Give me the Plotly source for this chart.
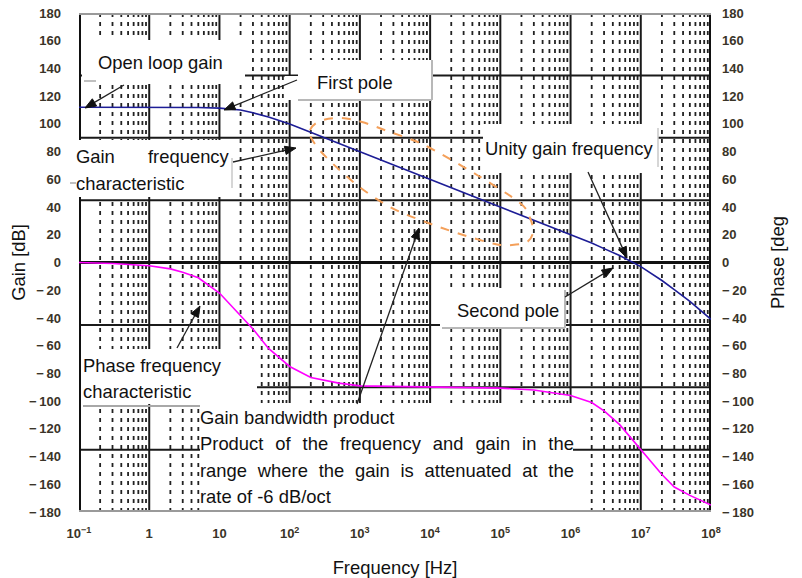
import math
import plotly.graph_objects as go

# ---------------- data ----------------
freq_gain = [0.1, 1, 5, 10, 20, 30, 50, 100, 200, 500, 1e3, 1e4, 1e5, 1e6,
             2e6, 3e6, 5e6, 1e7, 2e7, 3e7, 5e7, 1e8]
gain_db = [112, 112, 111.8, 111.4, 110, 108, 105, 100, 94, 86, 80, 60, 40, 20,
           14, 10, 5, -3, -13, -19.5, -28, -41]

freq_phase = [0.1, 0.3, 1, 2, 3, 5, 10, 20, 30, 50, 100, 200, 500, 1e3, 1e4,
              1e5, 3e5, 1e6, 2e6, 3e6, 5e6, 1e7, 2e7, 3e7, 5e7, 1e8]
phase_deg = [0, -0.7, -2.3, -4.6, -7, -11, -22, -38, -48, -62, -75, -83, -87,
             -89, -90, -90.6, -92, -96, -101, -107, -117, -135, -153, -162,
             -168, -175]

x_tickvals = [0.1, 1, 10, 100, 1e3, 1e4, 1e5, 1e6, 1e7, 1e8]
x_ticktext = ["10<sup>−1</sup>", "1", "10", "10<sup>2</sup>", "10<sup>3</sup>",
              "10<sup>4</sup>", "10<sup>5</sup>", "10<sup>6</sup>",
              "10<sup>7</sup>", "10<sup>8</sup>"]
y_tickvals = list(range(-180, 181, 20))
y_ticktext = [str(v).replace("-", "−\u2009") for v in y_tickvals]
phase_grid = [-135, -90, -45, 45, 90, 135]

# ---------------- geometry ----------------
X0, X1, Y0, Y1 = 79, 711, 13, 512      # plot area in page pixels
OFF = 8                                # default body margin of the page
W, H = 802 - OFF, 578 - OFF
L, T = X0 - OFF, Y0 - OFF
R, B = W - (X1 - OFF), H - (Y1 - OFF)
PW, PH = X1 - X0, Y1 - Y0
XR, YR = [-1, 8], [-180, 180]


def dx(p):   # page pixel -> x data value (log axis)
    return 10 ** (XR[0] + (XR[1] - XR[0]) * (p - X0) / PW)


def dy(p):   # page pixel -> y data value
    return YR[1] - (YR[1] - YR[0]) * (p - Y0) / PH


def ppx(p):
    return (p - X0) / PW


def ppy(p):
    return (Y1 - p) / PH


FONT = "Arial, Liberation Sans, sans-serif"
ANN_SIZE = 18.4
ANN_FONT = dict(family=FONT, size=ANN_SIZE, color="#111111")
TICK_FONT = dict(family=FONT, size=13, color="#3a3428", weight="bold")
TITLE_FONT = dict(family=FONT, size=18.4, color="#111")

fig = go.Figure()
fig.add_trace(go.Scatter(x=freq_gain, y=gain_db, mode="lines",
                         line=dict(color="#1d1d96", width=1.6),
                         yaxis="y", hoverinfo="skip"))
fig.add_trace(go.Scatter(x=freq_phase, y=phase_deg, mode="lines",
                         line=dict(color="#ff00ff", width=1.6),
                         yaxis="y2", hoverinfo="skip"))

fig.update_layout(
    width=W, height=H,
    margin=dict(l=L, r=R, t=T, b=B, autoexpand=False),
    paper_bgcolor="white", plot_bgcolor="white", showlegend=False,
    xaxis=dict(type="log", range=XR, tickmode="array",
               tickvals=x_tickvals, ticktext=x_ticktext,
               showgrid=False, showline=False, zeroline=False, ticks="",
               tickfont=TICK_FONT, ticklabelstandoff=12,
               ticklabeloverflow="allow",
               title=dict(text="Frequency [Hz]", font=TITLE_FONT,
                          standoff=23)),
    yaxis=dict(range=YR, tickmode="array", tickvals=y_tickvals,
               ticktext=y_ticktext, showgrid=False, zeroline=False,
               showline=False, ticks="", tickfont=TICK_FONT,
               ticklabelstandoff=17, ticklabeloverflow="allow",
               title=dict(text="Gain [dB]", font=TITLE_FONT, standoff=4)),
    yaxis2=dict(range=YR, overlaying="y", side="right",
                tickmode="array", tickvals=y_tickvals, ticktext=y_ticktext,
                showgrid=False, zeroline=False, showline=False, ticks="",
                tickfont=TICK_FONT, ticklabelstandoff=10,
                ticklabeloverflow="allow",
                title=dict(text="Phase [deg", font=TITLE_FONT, standoff=18)),
)

shapes = []
GRID = "#1a1a1a"


def dline(x0, y0, x1, y1, color, width=2, dash="solid", layer="below"):
    shapes.append(dict(type="line", xref="x", yref="y", x0=x0, y0=y0,
                       x1=x1, y1=y1, layer=layer,
                       line=dict(color=color, width=width, dash=dash)))


def pline(x0, y0, x1, y1, color, width=2, layer="below"):
    dline(dx(x0), dy(y0), dx(x1), dy(y1), color, width, "solid", layer)


def box(x0, y0, x1, y1):
    shapes.append(dict(type="rect", xref="x", yref="y",
                       x0=dx(x0), y0=dy(y0), x1=dx(x1), y1=dy(y1),
                       fillcolor="white", line=dict(width=0), layer="below"))


# grid: dashed minor decades, solid decades, solid phase lines, thick zero
for k in range(XR[0], XR[1]):
    for m in range(2, 10):
        dline(m * 10 ** k, YR[0], m * 10 ** k, YR[1], "#222", 1.8, "4px,5px")
for k in range(XR[0], XR[1] + 1):
    dline(10 ** k, YR[0], 10 ** k, YR[1], GRID, 2)
for v in phase_grid:
    dline(10 ** XR[0], v, 10 ** XR[1], v, GRID, 2)
dline(10 ** XR[0], 0, 10 ** XR[1], 0, "#111", 3)
# frame (half clipped at the plot edge)
dline(10 ** XR[0], YR[0], 10 ** XR[0], YR[1], "#111", 4)
dline(10 ** XR[1], YR[0], 10 ** XR[1], YR[1], "#111", 4)
dline(10 ** XR[0], YR[1], 10 ** XR[1], YR[1], "#9a9a9a", 4)
dline(10 ** XR[0], YR[0], 10 ** XR[1], YR[0], "#9a9a9a", 4)

# white callout boxes
box(82, 40, 245, 84)        # Open loop gain
box(298, 60, 432, 100)      # First pole
box(285, 76, 298, 100)
box(70, 140, 232, 197)      # Gain frequency characteristic
box(483, 124, 658, 173)     # Unity gain frequency
box(440, 288, 566, 328)     # Second pole
box(81, 349, 257, 404)      # Phase frequency characteristic
box(200, 403, 573, 510)     # Gain bandwidth product

# grey box edges
pline(298, 100, 432, 100, "#b8b8b8")
pline(432, 60, 432, 100, "#b8b8b8")
pline(232, 158, 232, 188, "#c8c8c8", 1.5)
pline(658, 128, 658, 167, "#c8c8c8", 1.5)
pline(442, 328, 565, 328, "#b8b8b8")
pline(565, 290, 565, 328, "#b8b8b8")
pline(83, 406, 200, 406, "#a8a8a8")
pline(84, 81, 96, 81, "#c0c0c0")
shapes.append(dict(type="line", xref="paper", yref="paper", x0=ppx(70),
                   x1=ppx(76), y0=ppy(183), y1=ppy(183), layer="below",
                   line=dict(color="#c0c0c0", width=2)))

# dashed orange loop around the -20 dB/dec region
loop = [(310, 130), (320, 121), (340, 118), (362, 122), (390, 132),
        (410, 139), (430, 148), (477, 175), (520, 203), (530, 218),
        (533, 232), (527, 242), (512, 245), (495, 244), (457, 233),
        (423, 221), (390, 207), (357, 185), (327, 158), (313, 141)]
n = len(loop)
seg = []
for i in range(n):
    p0, p1, p2, p3 = loop[i - 1], loop[i], loop[(i + 1) % n], loop[(i + 2) % n]
    c1 = (p1[0] + (p2[0] - p0[0]) / 6, p1[1] + (p2[1] - p0[1]) / 6)
    c2 = (p2[0] - (p3[0] - p1[0]) / 6, p2[1] - (p3[1] - p1[1]) / 6)
    seg.append("C %g,%g %g,%g %g,%g" % (dx(c1[0]), dy(c1[1]), dx(c2[0]),
                                         dy(c2[1]), dx(p2[0]), dy(p2[1])))
path = "M %g,%g " % (dx(loop[0][0]), dy(loop[0][1])) + " ".join(seg) + " Z"
shapes.append(dict(type="path", xref="x", yref="y", path=path,
                   line=dict(color="#f4a05a", width=2, dash="dash"),
                   layer="above"))


def arrow(tx, ty, hx, hy, head=11, half=4.2):
    d = math.hypot(hx - tx, hy - ty)
    ux, uy = (hx - tx) / d, (hy - ty) / d
    bx, by = hx - ux * head, hy - uy * head
    pline(tx, ty, bx + ux, by + uy, "#222", 1.3, "above")
    pts = [(hx, hy), (bx - uy * half, by + ux * half),
           (bx + uy * half, by - ux * half)]
    pth = "M " + " L ".join("%g,%g" % (dx(a), dy(b)) for a, b in pts) + " Z"
    shapes.append(dict(type="path", xref="x", yref="y", path=pth,
                       fillcolor="#111", line=dict(color="#111", width=1),
                       layer="above"))


arrow(124, 85, 85, 108)
arrow(297, 80, 224, 110)
arrow(233, 162, 296, 148)
arrow(588, 172, 627, 258)
arrow(565, 297, 613, 268)
arrow(177, 348, 200, 306)
arrow(357, 404, 419, 228)

fig.update_layout(shapes=shapes)

# ---------------- texts ----------------
AW = dict(a=556, b=556, c=500, d=556, e=556, f=278, g=556, h=556, i=222,
          j=222, k=500, l=222, m=833, n=556, o=556, p=556, q=556, r=333,
          s=500, t=278, u=556, v=500, w=722, x=500, y=500, z=500, P=667,
          G=778)
AW[" "] = 278


def tw(s):
    return sum(AW.get(c, 556) for c in s) * ANN_SIZE / 1000


def label(text, x, y, anchor="left"):
    fig.add_annotation(text=text, x=ppx(x), y=ppy(y), xref="paper",
                       yref="paper", xanchor=anchor, yanchor="middle",
                       showarrow=False, font=ANN_FONT, borderpad=0)


def justified(text, x0, x1, y):
    extra = (x1 - x0 - tw(text)) / text.count(" ")
    label("<span style='word-spacing:%.2fpx'>%s</span>" % (extra, text), x0, y)


label("Open loop gain", 97, 63)
label("First pole", 316, 82)
label("Gain", 75, 157)
label("frequency", 231, 157, "right")
label("characteristic", 75, 183)
label("Unity gain frequency", 484, 148)
label("Second pole", 456, 310)
label("Phase frequency", 82, 365)
label("characteristic", 82, 391)
label("Gain bandwidth product", 199, 417)
justified("Product of the frequency and gain in the", 199, 573, 443)
justified("range where the gain is attenuated at the", 199, 573, 470)
label("rate of -6 dB/oct", 199, 496)

fig.write_html("out.html")
